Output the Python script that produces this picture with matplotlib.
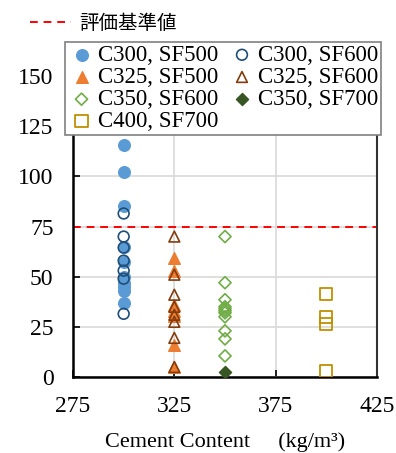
import matplotlib
matplotlib.use("Agg")
import matplotlib.pyplot as plt
from matplotlib.lines import Line2D

# ---- data ----
c300_sf500 = [115.5, 102, 85, 65, 57.5, 50, 47, 45, 43, 37]
c300_sf600 = [81.5, 70, 64.5, 58, 53, 49, 31.5]
c325_sf500 = [59.5, 53, 36, 33, 30.5, 16, 5]
c325_sf600 = [70, 51, 41, 35, 31, 27.5, 19.5, 5]
c350_sf600 = [70, 47, 38.5, 35, 34, 33, 32, 30, 23, 19, 10.5]
c350_sf700 = [2.5]
c400_sf700 = [41.5, 30, 26.5, 3]
threshold = 75
xticks = [275, 325, 375, 425]
yticks = [0, 25, 50, 75, 100, 125, 150]

series = [
    ("C300, SF500", 300, c300_sf500, dict(marker="o", s=70, facecolors="#5B9BD5", edgecolors="#5B9BD5")),
    ("C300, SF600", 300, c300_sf600, dict(marker="o", s=60, facecolors="none", edgecolors="#1F4E79", linewidths=1.2)),
    ("C325, SF500", 325, c325_sf500, dict(marker="^", s=70, facecolors="#ED7D31", edgecolors="#ED7D31")),
    ("C325, SF600", 325, c325_sf600, dict(marker="^", s=60, facecolors="none", edgecolors="#843C0C", linewidths=1.2)),
    ("C350, SF600", 350, c350_sf600, dict(marker="D", s=38, facecolors="none", edgecolors="#70AD47", linewidths=1.2)),
    ("C350, SF700", 350, c350_sf700, dict(marker="D", s=38, facecolors="#375623", edgecolors="#375623")),
    ("C400, SF700", 400, c400_sf700, dict(marker="s", s=75, facecolors="none", edgecolors="#BF9000", linewidths=1.3)),
]

plt.rcParams["font.family"] = ["Liberation Serif", "DejaVu Serif"]

fig = plt.figure(figsize=(3.96, 4.53), dpi=100)
ax = fig.add_axes([73/396, 1-377/453, (377-73)/396, (377-56)/453])

handles = {}
for name, x, vals, kw in series:
    h = ax.scatter([x]*len(vals), vals, zorder=3, label=name, **kw)
    handles[name] = h

red = ax.axhline(threshold, color="#FF0000", ls=(0, (4, 3)), lw=1.4, zorder=2)

ax.set_xlim(275, 425)
ax.set_ylim(0, 160)
ax.set_xticks(xticks)
ax.set_yticks(yticks)
ax.tick_params(axis="both", direction="in", labelsize=17, length=5, width=1.2, pad=14)
for lbl in ax.get_xticklabels() + ax.get_yticklabels():
    lbl.set_fontfamily(["Liberation Serif", "DejaVu Serif"])
ax.grid(True, color="#D9D9D9", lw=1.2, zorder=0)
ax.set_axisbelow(True)
for s in ["left", "bottom"]:
    ax.spines[s].set_linewidth(1.8)
    ax.spines[s].set_color("black")
ax.spines["right"].set_linewidth(1.5)
ax.spines["right"].set_color("#333333")
ax.spines["top"].set_visible(False)

ax.set_xlabel("Cement Content     (kg/m\u00b3)", fontsize=16, labelpad=11)

order = ["C300, SF500", "C325, SF500", "C350, SF600", "C400, SF700",
         "C300, SF600", "C325, SF600", "C350, SF700"]
leg = ax.legend([handles[n] for n in order], order, ncol=2, fontsize=16.5,
                loc="upper left", bbox_to_anchor=(65/396, 1-42/453),
                bbox_transform=fig.transFigure, frameon=True, fancybox=False,
                edgecolor="#808080", framealpha=1, borderpad=0.12,
                handletextpad=0.1, columnspacing=0.45, labelspacing=0.05,
                handlelength=1.2, borderaxespad=0)
leg.get_frame().set_linewidth(1.2)
leg.set_zorder(5)

leg2 = fig.legend([Line2D([0], [0], color="#FF0000", ls=(0, (4, 3)), lw=1.4)],
                  ["評価基準値"], loc="upper left", bbox_to_anchor=(30/396, 1-13/453),
                  frameon=False, prop={"family": ["Noto Sans CJK JP"], "size": 14},
                  handlelength=2.1, handletextpad=0.45, borderpad=0, borderaxespad=0)

fig.savefig("out.png", dpi=100)
